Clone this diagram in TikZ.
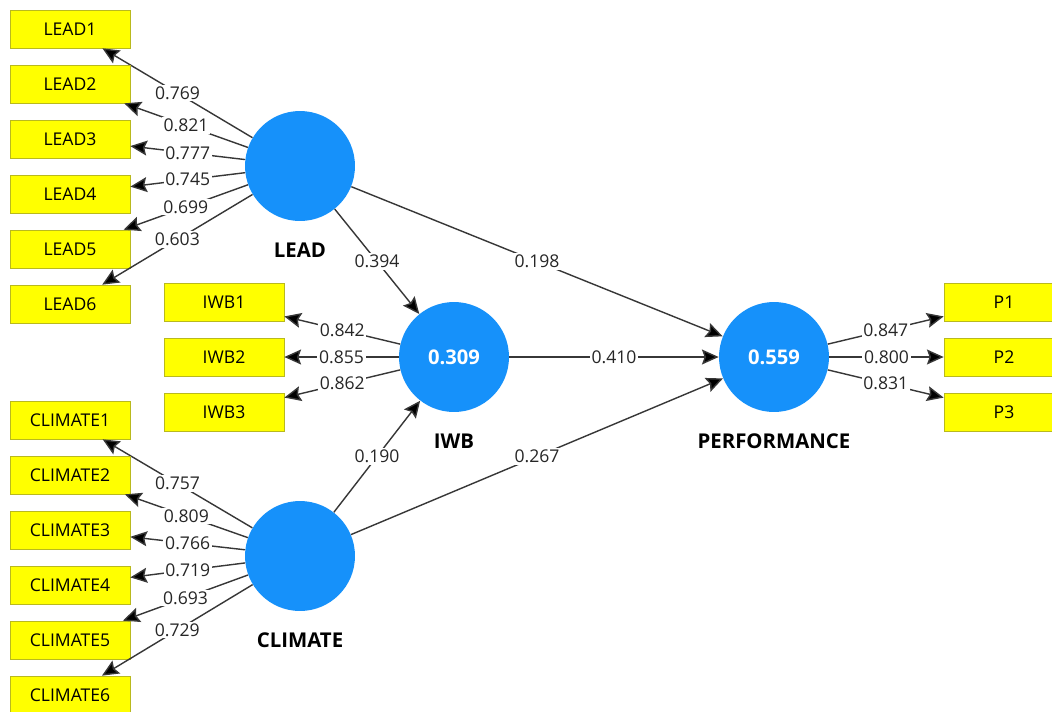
\documentclass[tikz,border=0pt]{standalone}
\usepackage{fontspec}
\setmainfont{Open Sans}
\usepackage{tikz}
\usetikzlibrary{arrows.meta}
\usetikzlibrary{positioning}
\definecolor{lvblue}{RGB}{22, 145, 250}
\definecolor{mvyellow}{RGB}{255, 255, 0}
\definecolor{mvborder}{RGB}{185, 185, 30}
\definecolor{linkgray}{RGB}{55, 55, 55}

\tikzset{
  lv/.style={circle,fill=lvblue,minimum size=2.2cm,inner sep=0pt,text=white,font=\fontsize{11.5}{13}\selectfont\bfseries},
  lvname/.style={inner sep=0pt,font=\fontsize{11.6}{13}\selectfont\bfseries},
  mv/.style={draw=mvborder,fill=mvyellow,minimum width=2.4cm,minimum height=0.76cm,inner sep=0pt,font=\fontsize{10}{12}\selectfont},
  coef/.style={fill=white,inner sep=1pt,text=black!85,font=\fontsize{10}{12}\selectfont},
  link/.style={draw=linkgray,line width=0.8pt,-{Stealth[length=9.5pt,width=8.5pt,inset=1.5pt,fill=black]}}
}

\begin{document}
\begin{tikzpicture}[x=0.02cm,y=-0.02cm]
  \clip (0,0) rectangle (1052,711);
  \fill[white] (0,0) rectangle (1052,711);
  % latent variables
  \node[lv] (lead) at (300,166) {};
  \node[lv] (iwb) at (454,357) {0.309};
  \node[lv] (perf) at (774,357) {0.559};
  \node[lv] (clim) at (300,556) {};
  \node[lvname,below=0.42cm of lead] (leadname) {LEAD};
  \node[lvname,below=0.42cm of iwb] (iwbname) {IWB};
  \node[lvname,below=0.42cm of perf] (perfname) {PERFORMANCE};
  \node[lvname,below=0.42cm of clim] (climname) {CLIMATE};
  % indicators and loadings
  \foreach \i/\v in {1/0.769,2/0.821,3/0.777,4/0.745,5/0.699,6/0.603}{
    \node[mv] (lead\i) at (70,{-26+55*\i}) {LEAD\i};
    \path[link] (lead) edge node[coef] {\v} (lead\i);
  }
  \foreach \i/\v in {1/0.757,2/0.809,3/0.766,4/0.719,5/0.693,6/0.729}{
    \node[mv] (clim\i) at (70,{365+55*\i}) {CLIMATE\i};
    \path[link] (clim) edge node[coef] {\v} (clim\i);
  }
  \foreach \i/\v in {1/0.842,2/0.855,3/0.862}{
    \node[mv] (iwb\i) at (224,{247+55*\i}) {IWB\i};
    \path[link] (iwb) edge node[coef] {\v} (iwb\i);
  }
  \foreach \i/\v in {1/0.847,2/0.800,3/0.831}{
    \node[mv] (p\i) at (1004,{247+55*\i}) {P\i};
    \path[link] (perf) edge node[coef] {\v} (p\i);
  }
  % path coefficients
  \path[link]
    (lead) edge node[coef] {0.394} (iwb)
    (lead) edge node[coef] {0.198} (perf)
    (iwb) edge node[coef] {0.410} (perf)
    (clim) edge node[coef] {0.190} (iwb)
    (clim) edge node[coef] {0.267} (perf);
\end{tikzpicture}
\end{document}
